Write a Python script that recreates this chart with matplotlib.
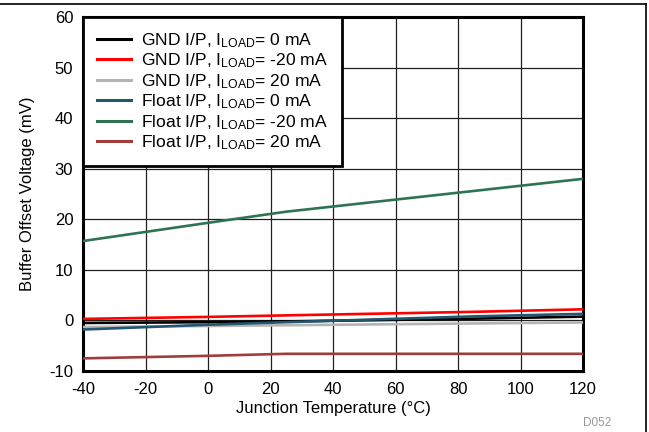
import matplotlib
matplotlib.use("Agg")
import matplotlib.pyplot as plt
from matplotlib.lines import Line2D

plt.rcParams['font.family'] = ['Liberation Sans', 'DejaVu Sans']
plt.rcParams['mathtext.fontset'] = 'custom'
plt.rcParams['mathtext.rm'] = 'Liberation Sans'
plt.rcParams['mathtext.it'] = 'Liberation Sans:italic'
plt.rcParams['mathtext.bf'] = 'Liberation Sans:bold'
plt.rcParams['axes.unicode_minus'] = False

temps = [-40, 0, 25, 85, 120]
gnd_0 = [-0.5, -0.35, -0.2, 0.35, 0.75]
gnd_m20 = [0.3, 0.7, 1.0, 1.7, 2.2]
gnd_20 = [-1.3, -1.1, -0.95, -0.6, -0.4]
float_0 = [-1.8, -0.85, -0.35, 0.8, 1.3]
float_m20 = [15.7, 19.3, 21.5, 25.6, 28.0]
float_20 = [-7.5, -7.0, -6.6, -6.6, -6.6]

labels = [r'GND I/P, I$_{\mathrm{LOAD}}$= 0 mA',
          r'GND I/P, I$_{\mathrm{LOAD}}$= -20 mA',
          r'GND I/P, I$_{\mathrm{LOAD}}$= 20 mA',
          r'Float I/P, I$_{\mathrm{LOAD}}$= 0 mA',
          r'Float I/P, I$_{\mathrm{LOAD}}$= -20 mA',
          r'Float I/P, I$_{\mathrm{LOAD}}$= 20 mA']
series = [gnd_0, gnd_m20, gnd_20, float_0, float_m20, float_20]
colors = ['#000000', '#FF0000', '#B4B4B4', '#23566F', '#2E7454', '#A03C3C']

xticks = [-40, -20, 0, 20, 40, 60, 80, 100, 120]
yticks = [-10, 0, 10, 20, 30, 40, 50, 60]

fig = plt.figure(figsize=(6.49, 4.32), dpi=100)
ax = fig.add_axes([83/649, 1 - 371/432, (583 - 83)/649, (371 - 17)/432])

for s, c, l in zip(series, colors, labels):
    ax.plot(temps, s, color=c, lw=1.9, label=l, zorder=3)

ax.set_xlim(-40, 120)
ax.set_ylim(-10, 60)
ax.set_xticks(xticks)
ax.set_yticks(yticks)
ax.grid(True, color='#202020', lw=0.9, zorder=1)
ax.tick_params(length=0, labelsize=12)
ax.tick_params(axis='x', pad=8)
ax.tick_params(axis='y', pad=7)
for sp in ax.spines.values():
    sp.set_linewidth(2.2)
ax.set_xlabel('Junction Temperature (°C)', fontsize=12, labelpad=3)
ax.set_ylabel('Buffer Offset Voltage (mV)', fontsize=12, labelpad=10)

leg = ax.legend(loc='upper left', bbox_to_anchor=(0, 1), borderaxespad=0,
                fontsize=12.6, frameon=True, fancybox=False, framealpha=1,
                handlelength=1.95, handletextpad=0.55, labelspacing=0.1,
                borderpad=0.8)
leg.get_frame().set_edgecolor('black')
leg.get_frame().set_linewidth(2.0)
leg.set_zorder(5)
for h in leg.get_lines():
    h.set_linewidth(2.2)

fig.text(597/649, 1 - 423/432, 'D052', fontsize=8.5, color='#999999',
         ha='center', va='center')

fig.add_artist(Line2D([0, 646/649], [1 - 4/432, 1 - 4/432], color='black', lw=1.2,
                      transform=fig.transFigure))
fig.add_artist(Line2D([646/649, 646/649], [0, 1 - 4/432], color='black', lw=1.2,
                      transform=fig.transFigure))

fig.savefig('out.png', dpi=100)
